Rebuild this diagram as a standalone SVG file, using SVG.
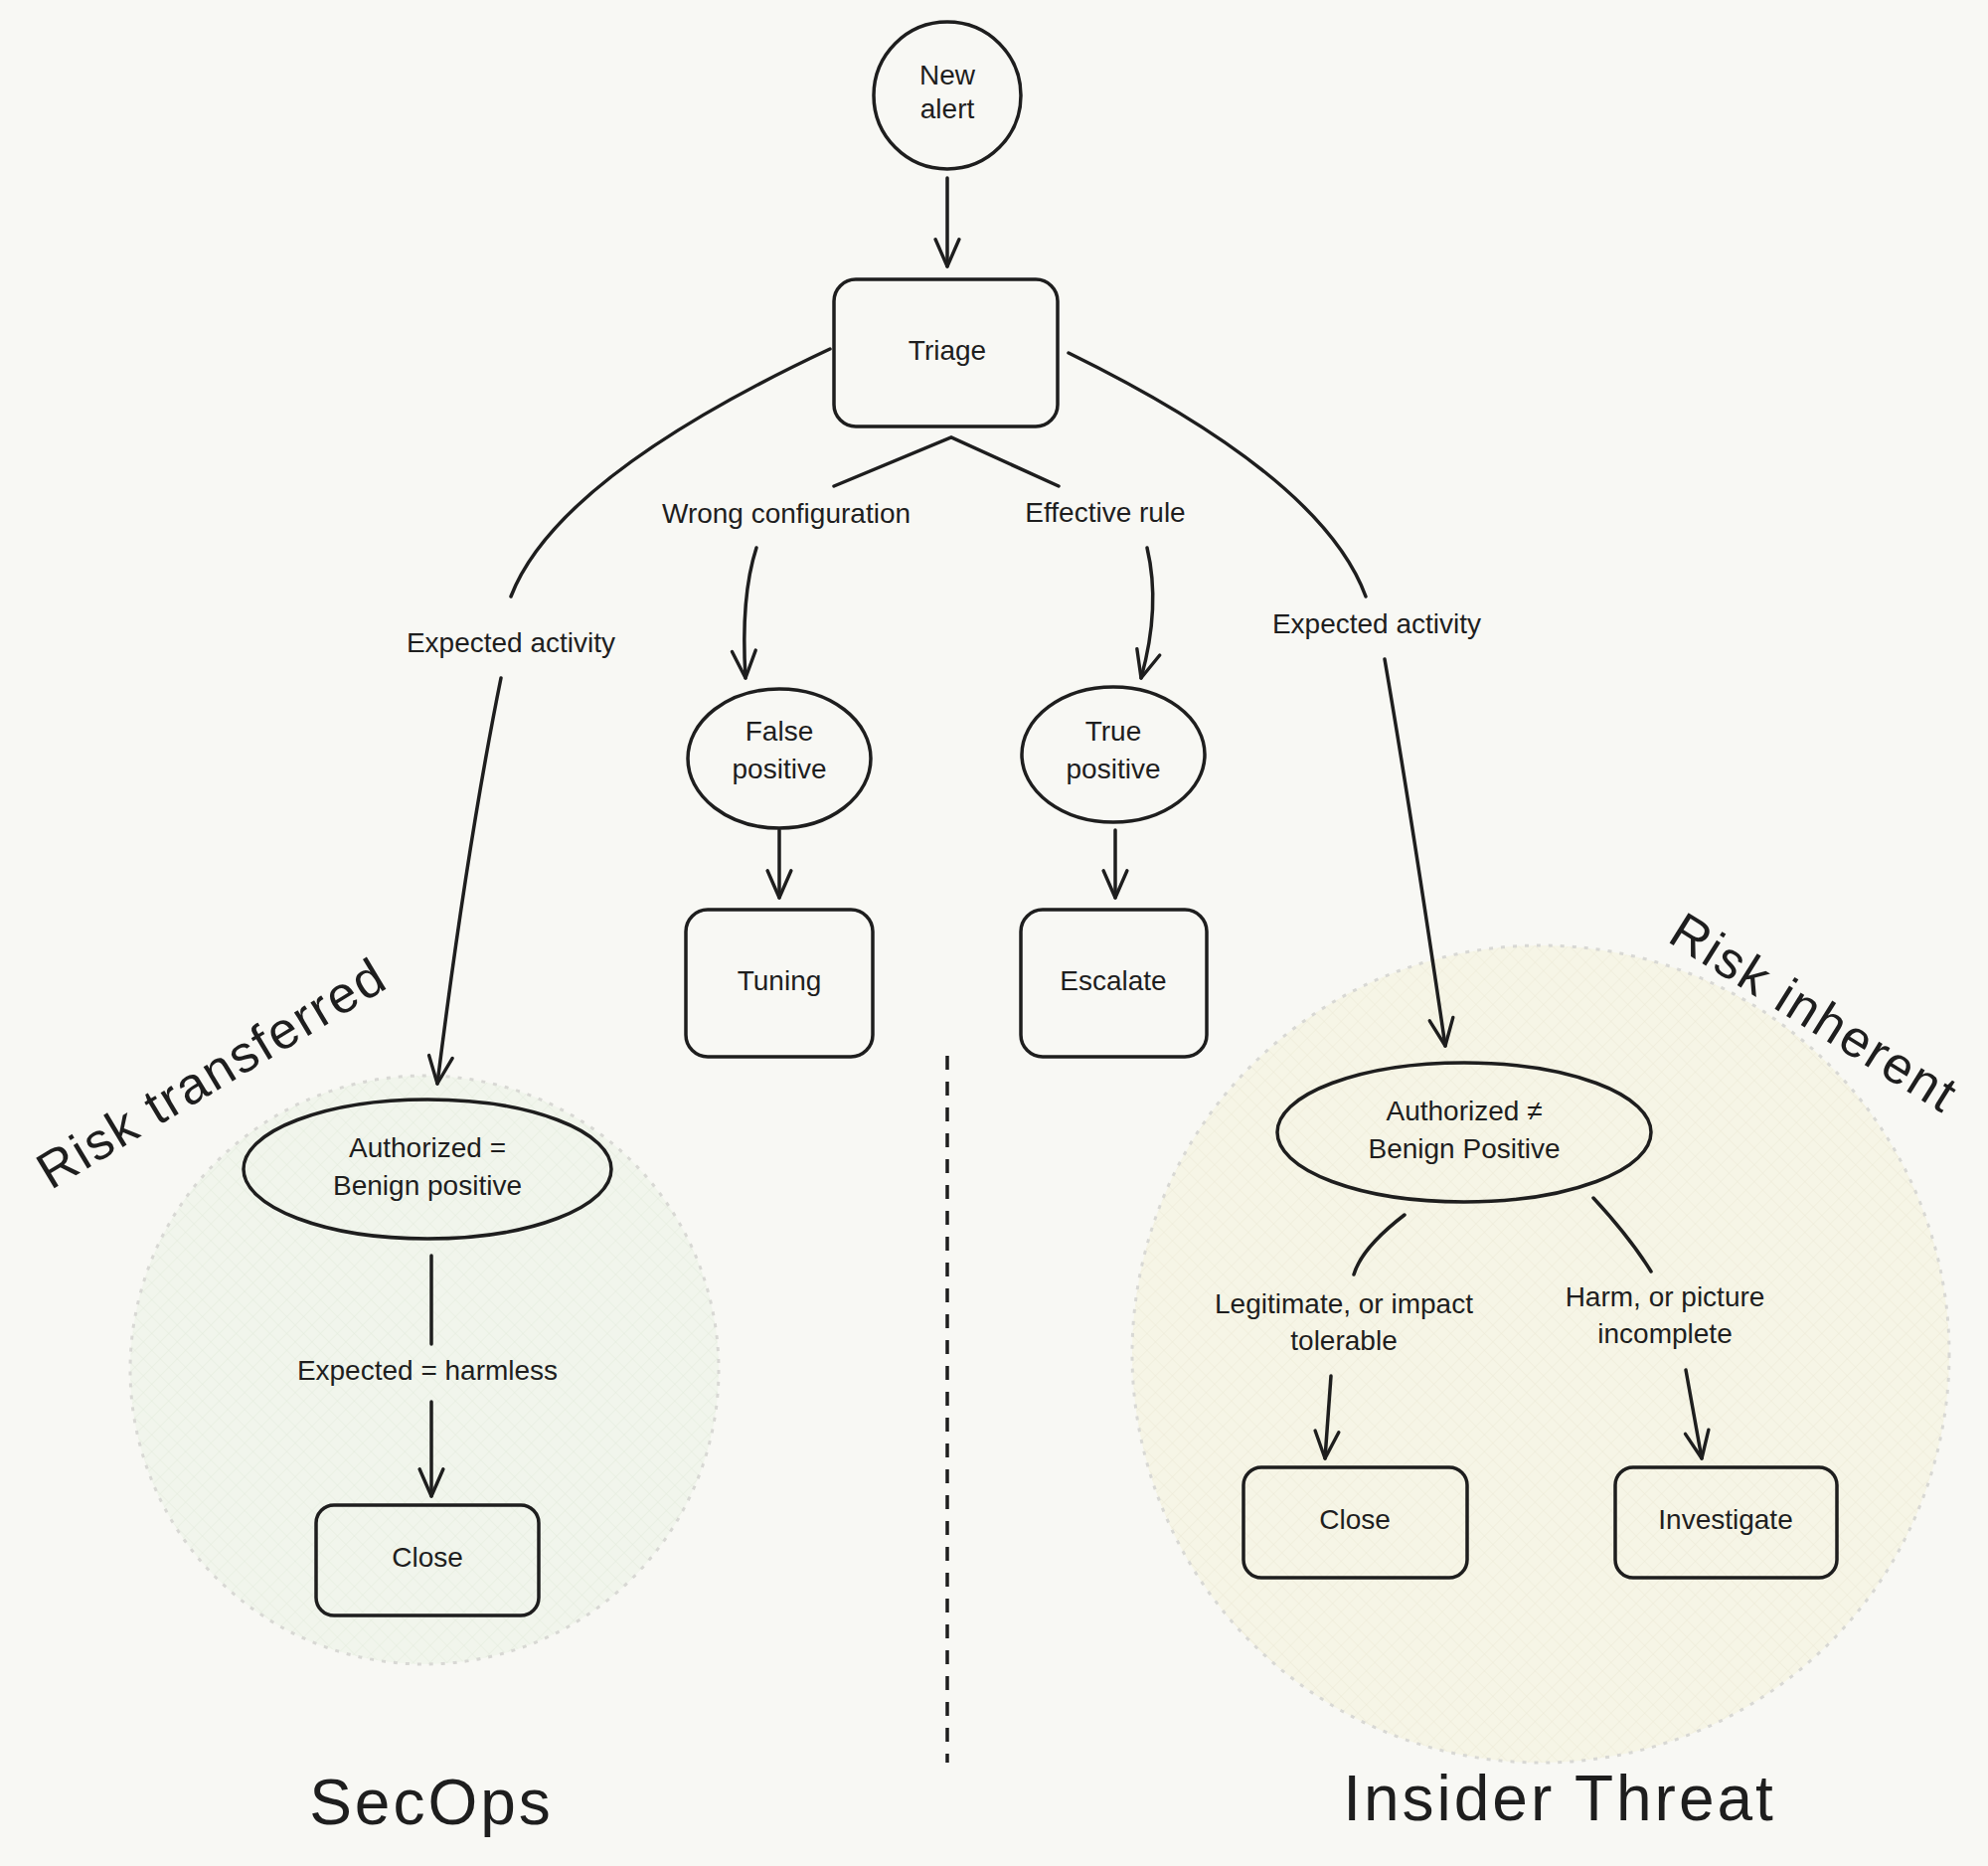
<svg xmlns="http://www.w3.org/2000/svg" width="2000" height="1877" viewBox="0 0 2000 1877">
<defs>
<style>
.n{fill:none;stroke:#1e1e1e;stroke-width:3.5}
.c{fill:none;stroke:#1e1e1e;stroke-width:3.5;stroke-linecap:round}
.t{font-family:"Liberation Sans",Arial,sans-serif;font-size:28px;fill:#1e1e1e;text-anchor:middle;dominant-baseline:middle}
.big{font-family:"Liberation Sans",Arial,sans-serif;font-size:64px;fill:#1e1e1e;text-anchor:middle;dominant-baseline:middle;letter-spacing:3px}
.mid{font-family:"Liberation Sans",Arial,sans-serif;font-size:52px;fill:#1e1e1e;text-anchor:middle;dominant-baseline:middle;letter-spacing:2px}
</style>
<marker id="a" viewBox="0 0 20 20" refX="18" refY="10" markerWidth="34" markerHeight="34" markerUnits="userSpaceOnUse" orient="auto"><path d="M2 3 L18 10 L2 17" fill="none" stroke="#1e1e1e" stroke-width="2" stroke-linecap="round" stroke-linejoin="round"/></marker>
<pattern id="hg" width="12" height="12" patternUnits="userSpaceOnUse" patternTransform="rotate(45)"><rect width="12" height="12" fill="#f1f5ec"/><path d="M0 0H12M0 0V12" stroke="#e3ebdc" stroke-width="1"/></pattern>
<pattern id="hy" width="12" height="12" patternUnits="userSpaceOnUse" patternTransform="rotate(45)"><rect width="12" height="12" fill="#f6f5e6"/><path d="M0 0H12M0 0V12" stroke="#ecead6" stroke-width="1"/></pattern>
</defs>
<rect width="2000" height="1877" fill="#f8f8f4"/>
<g id="zones">
<circle cx="427" cy="1378" r="296" fill="url(#hg)" stroke="#d8d8d4" stroke-width="3" stroke-dasharray="4 8"/>
<circle cx="1550" cy="1362" r="411" fill="url(#hy)" stroke="#d8d8d4" stroke-width="3" stroke-dasharray="4 8"/>
</g>
<g id="connectors">
<line class="c" x1="953" y1="179" x2="953" y2="268" marker-end="url(#a)"/>
<polyline class="c" points="839,489 957,440 1065,489"/>
<path class="c" d="M761 551 Q745 600 750 682" marker-end="url(#a)"/>
<path class="c" d="M1154 551 Q1168 610 1148 682" marker-end="url(#a)"/>
<line class="c" x1="784" y1="835" x2="784" y2="903" marker-end="url(#a)"/>
<line class="c" x1="1122" y1="835" x2="1122" y2="903" marker-end="url(#a)"/>
<path class="c" d="M835 351 Q560 480 514 600"/>
<path class="c" d="M504 682 Q470 850 440 1090" marker-end="url(#a)"/>
<path class="c" d="M1075 355 Q1330 480 1374 600"/>
<path class="c" d="M1393 663 Q1420 820 1454 1052" marker-end="url(#a)"/>
<line class="c" x1="434" y1="1263" x2="434" y2="1352"/>
<line class="c" x1="434" y1="1410" x2="434" y2="1505" marker-end="url(#a)"/>
<path class="c" d="M1413 1222 Q1370 1255 1362 1282"/>
<line class="c" x1="1339" y1="1384" x2="1333" y2="1467" marker-end="url(#a)"/>
<path class="c" d="M1603 1205 Q1640 1245 1661 1279"/>
<line class="c" x1="1696" y1="1378" x2="1712" y2="1467" marker-end="url(#a)"/>
<line x1="953" y1="1062" x2="953" y2="1773" stroke="#1e1e1e" stroke-width="3.5" stroke-dasharray="14 12"/>
</g>
<g id="labels">
<text class="t" x="791" y="519">Wrong configuration</text>
<text class="t" x="1112" y="518">Effective rule</text>
<text class="t" x="514" y="649">Expected activity</text>
<text class="t" x="1385" y="630">Expected activity</text>
<text class="t" x="430" y="1381">Expected = harmless</text>
<text class="t" x="1352" y="1314">Legitimate, or impact</text>
<text class="t" x="1352" y="1351">tolerable</text>
<text class="t" x="1675" y="1307">Harm, or picture</text>
<text class="t" x="1675" y="1344">incomplete</text>
<text class="big" x="434" y="1818">SecOps</text>
<text class="big" x="1569" y="1814">Insider Threat</text>
<text class="mid" transform="translate(215,1083) rotate(-31)">Risk transferred</text>
<text class="mid" transform="translate(1823,1022) rotate(32)">Risk inherent</text>
</g>
<g id="new-alert"><circle class="n" cx="953" cy="96" r="74"/><text class="t" x="953" y="78">New</text><text class="t" x="953" y="112">alert</text></g>
<g id="triage"><rect class="n" x="839" y="281" width="225" height="148" rx="22"/><text class="t" x="953" y="355">Triage</text></g>
<g id="false-positive"><ellipse class="n" cx="784" cy="763" rx="92" ry="70"/><text class="t" x="784" y="738">False</text><text class="t" x="784" y="776">positive</text></g>
<g id="true-positive"><ellipse class="n" cx="1120" cy="759" rx="92" ry="68"/><text class="t" x="1120" y="738">True</text><text class="t" x="1120" y="776">positive</text></g>
<g id="tuning"><rect class="n" x="690" y="915" width="188" height="148" rx="22"/><text class="t" x="784" y="989">Tuning</text></g>
<g id="escalate"><rect class="n" x="1027" y="915" width="187" height="148" rx="22"/><text class="t" x="1120" y="989">Escalate</text></g>
<g id="benign-left"><ellipse class="n" cx="430" cy="1176" rx="185" ry="70"/><text class="t" x="430" y="1157">Authorized =</text><text class="t" x="430" y="1195">Benign positive</text></g>
<g id="close-left"><rect class="n" x="318" y="1514" width="224" height="111" rx="18"/><text class="t" x="430" y="1569">Close</text></g>
<g id="benign-right"><ellipse class="n" cx="1473" cy="1139" rx="188" ry="70"/><text class="t" x="1473" y="1120">Authorized ≠</text><text class="t" x="1473" y="1158">Benign Positive</text></g>
<g id="close-right"><rect class="n" x="1251" y="1476" width="225" height="111" rx="18"/><text class="t" x="1363" y="1531">Close</text></g>
<g id="investigate"><rect class="n" x="1625" y="1476" width="223" height="111" rx="18"/><text class="t" x="1736" y="1531">Investigate</text></g>
</svg>
